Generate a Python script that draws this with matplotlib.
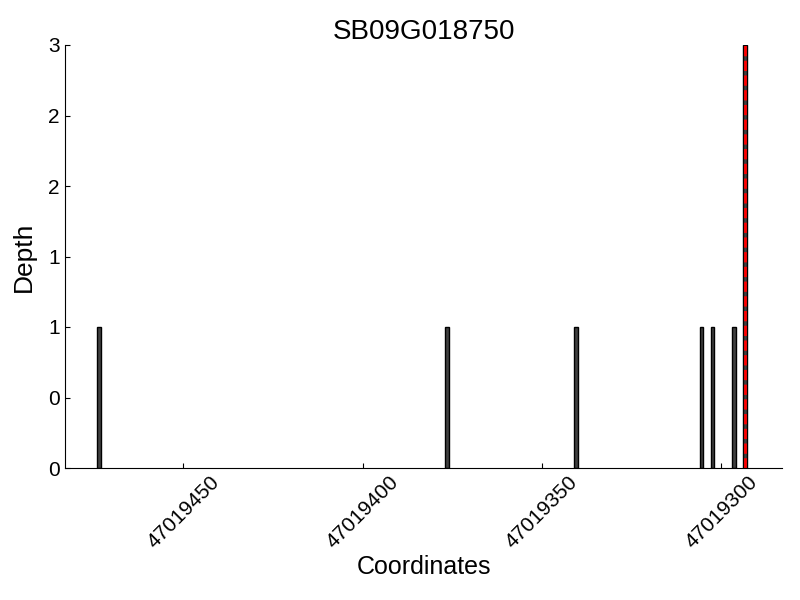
import matplotlib
matplotlib.use("Agg")
import matplotlib.pyplot as plt
from matplotlib.ticker import FormatStrFormatter, MultipleLocator

plt.rcParams['font.family'] = ['Liberation Sans', 'DejaVu Sans']

gene = 'SB09G018750'
positions = [47019473, 47019376, 47019340, 47019305, 47019302, 47019296, 47019293]
depth = [1, 1, 1, 1, 1, 1, 3]
marker_pos = 47019293.5
xlim = (47019483, 47019283)

fig = plt.figure(figsize=(8, 6), dpi=100)
ax = fig.add_axes([0.081, 0.22, 0.897, 0.705])

ax.bar(positions, depth, width=1, align='edge', color='#404040',
       edgecolor='black', linewidth=1)
ax.axvline(marker_pos, color='red', linestyle='--', linewidth=2)

ax.set_xlim(*xlim)
ax.set_ylim(0, 3)
ax.xaxis.set_major_locator(MultipleLocator(50))
ax.yaxis.set_major_locator(MultipleLocator(0.5))
ax.yaxis.set_major_formatter(FormatStrFormatter('%d'))
ax.xaxis.set_major_formatter(FormatStrFormatter('%d'))

ax.spines['top'].set_visible(False)
ax.spines['right'].set_visible(False)
ax.tick_params(direction='in', labelsize=15, top=False, right=False)
plt.setp(ax.get_xticklabels(), rotation=45, ha='center', va='top',
         rotation_mode='default')

ax.set_title(gene, fontsize=20, pad=4)
ax.set_xlabel('Coordinates', fontsize=18, labelpad=2)
ax.set_ylabel('Depth', fontsize=19, labelpad=9)

fig.savefig('out.png')
